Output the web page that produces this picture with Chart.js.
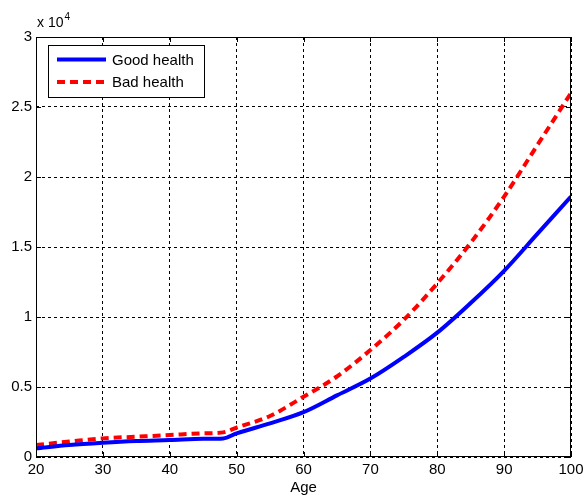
<!DOCTYPE html>
<html>
<head>
<meta charset="utf-8">
<script src="https://cdn.jsdelivr.net/npm/chart.js@4.4.1/dist/chart.umd.min.js"></script>
<style>
  html, body { margin: 0; padding: 0; background: #fff; }
  #wrap { width: 584px; height: 497px; position: relative; }
</style>
</head>
<body>
<div id="wrap"><canvas id="chart"></canvas></div>
<script>
// Valores (eixo y em unidades reais, mostrado como x 10^4)
const ages = [20, 25, 30, 35, 40, 45, 48, 50, 55, 60, 65, 70, 75, 80, 85, 90, 95, 100];
const goodHealth = [620, 860, 1020, 1140, 1210, 1300, 1330, 1690, 2400, 3200, 4400, 5600, 7150, 8880, 11000, 13300, 15950, 18600];
const badHealth = [860, 1100, 1330, 1450, 1570, 1690, 1760, 2100, 2930, 4300, 5750, 7640, 9800, 12400, 15300, 18600, 22300, 26000];
const yTicks = [0, 5000, 10000, 15000, 20000, 25000, 30000];
const xTicks = [20, 30, 40, 50, 60, 70, 80, 90, 100];

const FONT = 'Liberation Sans, Arial, sans-serif';

function toPoints(values) {
    return ages.map((a, i) => ({ x: a, y: values[i] }));
}

// Caixa, marcas internas, legenda e "x 10^4" no estilo MATLAB
const matlabFrame = {
    id: 'matlabFrame',
    afterDraw(chart) {
        const ctx = chart.ctx;
        const area = chart.chartArea;
        const xs = chart.scales.x;
        const ys = chart.scales.y;
        ctx.save();
        ctx.strokeStyle = '#000';
        ctx.lineWidth = 1;
        ctx.setLineDash([]);
        ctx.strokeRect(area.left + 0.5, area.top + 0.5, area.right - area.left - 1, area.bottom - area.top - 1);

        const tl = 5;
        ctx.beginPath();
        xTicks.forEach(v => {
            const px = Math.round(xs.getPixelForValue(v)) + 0.5;
            ctx.moveTo(px, area.bottom); ctx.lineTo(px, area.bottom - tl);
            ctx.moveTo(px, area.top); ctx.lineTo(px, area.top + tl);
        });
        yTicks.forEach(v => {
            const py = Math.round(ys.getPixelForValue(v)) + 0.5;
            ctx.moveTo(area.left, py); ctx.lineTo(area.left + tl, py);
            ctx.moveTo(area.right, py); ctx.lineTo(area.right - tl, py);
        });
        ctx.stroke();

        // multiplicador
        ctx.fillStyle = '#000';
        ctx.textBaseline = 'alphabetic';
        ctx.textAlign = 'left';
        ctx.font = '14px ' + FONT;
        ctx.fillText('x 10', area.left + 1, area.top - 10);
        const w = ctx.measureText('x 10').width;
        ctx.font = '10px ' + FONT;
        ctx.fillText('4', area.left + 1 + w + 1, area.top - 17);

        // legenda
        const lx = area.left + 12, ly = area.top + 8, lw = 156, lh = 52;
        ctx.fillStyle = '#fff';
        ctx.fillRect(lx, ly, lw, lh);
        ctx.strokeStyle = '#000';
        ctx.lineWidth = 1;
        ctx.strokeRect(lx + 0.5, ly + 0.5, lw, lh);
        chart.data.datasets.forEach((ds, i) => {
            const yy = ly + 14.5 + i * 22.5;
            ctx.beginPath();
            ctx.strokeStyle = ds.borderColor;
            ctx.lineWidth = 4;
            ctx.setLineDash(ds.borderDash || []);
            ctx.moveTo(lx + 9, yy);
            ctx.lineTo(lx + 58, yy);
            ctx.stroke();
            ctx.setLineDash([]);
            ctx.fillStyle = '#000';
            ctx.font = '15px ' + FONT;
            ctx.textBaseline = 'middle';
            ctx.fillText(ds.label, lx + 64, yy + 1);
        });
        ctx.restore();
    }
};

new Chart(document.getElementById('chart'), {
    type: 'line',
    data: {
        datasets: [
            {
                label: 'Good health',
                data: toPoints(goodHealth),
                borderColor: '#0000ff',
                borderWidth: 4,
                pointRadius: 0,
                cubicInterpolationMode: 'monotone',
                fill: false
            },
            {
                label: 'Bad health',
                data: toPoints(badHealth),
                borderColor: '#ff0000',
                borderWidth: 4,
                borderDash: [8, 5],
                pointRadius: 0,
                cubicInterpolationMode: 'monotone',
                fill: false
            }
        ]
    },
    options: {
        responsive: true,
        maintainAspectRatio: false,
        animation: false,
        layout: { padding: { top: 37, right: 13, left: 0, bottom: 0 } },
        plugins: {
            legend: { display: false },
            tooltip: { enabled: false }
        },
        scales: {
            x: {
                type: 'linear',
                min: 20,
                max: 100,
                afterBuildTicks: s => { s.ticks = xTicks.map(v => ({ value: v })); },
                afterFit: s => { s.height = 40; s.paddingLeft = 0; s.paddingRight = 0; },
                grid: { color: '#000', lineWidth: 1, drawTicks: false },
                border: { display: false, dash: [3, 3] },
                ticks: { color: '#000', font: { family: FONT, size: 15 }, padding: 4, maxRotation: 0 },
                title: { display: true, text: 'Age', color: '#000', font: { family: FONT, size: 15 }, padding: { top: 3, bottom: 0 } }
            },
            y: {
                min: 0,
                max: 30000,
                afterBuildTicks: s => { s.ticks = yTicks.map(v => ({ value: v })); },
                afterFit: s => { s.width = 36; s.paddingTop = 0; s.paddingBottom = 0; },
                grid: { color: '#000', lineWidth: 1, drawTicks: false },
                border: { display: false, dash: [3, 3] },
                ticks: {
                    color: '#000',
                    font: { family: FONT, size: 15 },
                    padding: 4,
                    callback: v => String(v / 10000)
                }
            }
        }
    },
    plugins: [matlabFrame]
});
</script>
</body>
</html>
